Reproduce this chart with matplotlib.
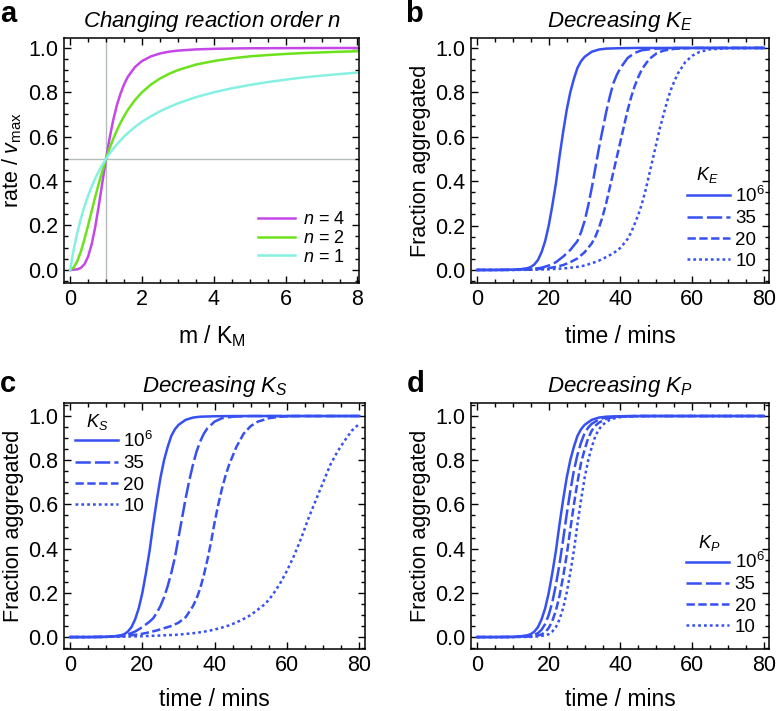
import numpy as np
import matplotlib
matplotlib.use("Agg")
import matplotlib.pyplot as plt
from matplotlib.ticker import MultipleLocator, FormatStrFormatter

plt.rcParams['font.family'] = ['Liberation Sans', 'DejaVu Sans']
plt.rcParams['mathtext.fontset'] = 'custom'
plt.rcParams['mathtext.rm'] = 'Liberation Sans'
plt.rcParams['mathtext.it'] = 'Liberation Sans:italic'
plt.rcParams['mathtext.bf'] = 'Liberation Sans:bold'
plt.rcParams['lines.scale_dashes'] = False

# ---- panel a : rate vs m/KM ----
m_km = [0, 0.1, 0.2, 0.3, 0.4, 0.5, 0.6, 0.7, 0.8, 0.9, 1.0, 1.1, 1.2, 1.3, 1.4,
        1.5, 1.6, 1.8, 2.0, 2.25, 2.5, 2.75, 3.0, 3.5, 4, 4.5, 5, 5.5, 6, 6.5, 7, 7.5, 8]
rate_n1 = [0, .091, .167, .231, .286, .333, .375, .412, .444, .474, .5, .524, .545,
           .565, .583, .6, .615, .643, .667, .692, .714, .733, .75, .778, .8, .818,
           .833, .846, .857, .867, .875, .882, .889]
rate_n2 = [0, .0099, .0385, .0826, .138, .2, .265, .329, .390, .447, .5, .548, .590,
           .628, .662, .692, .719, .764, .8, .835, .862, .883, .9, .925, .941, .953,
           .962, .968, .973, .977, .980, .983, .985]
rate_n4 = [0, .0001, .0016, .0081, .025, .0588, .1147, .1936, .2906, .3962, .5, .594,
           .675, .741, .793, .835, .868, .913, .941, .962, .975, .983, .988, .9934,
           .9961, .9976, .9984, .9989, .9992, .9994, .9996, .9997, .9998]

# ---- shared curve: K = 10^6 ----
t_base = [0, 5, 10, 12, 14, 15, 16, 17, 18, 19, 20, 21, 22, 23, 24, 25, 26, 27, 28,
          29, 30, 32, 34, 36, 40, 45, 50, 60, 70, 80]
f_base = [0, 0, 0.001, 0.003, 0.008, 0.013, 0.025, 0.045, 0.08, 0.13, 0.2, 0.29, 0.39,
          0.51, 0.62, 0.72, 0.80, 0.86, 0.91, 0.94, 0.96, 0.983, 0.993, 0.997, 0.999,
          1, 1, 1, 1, 1]

# ---- panel b : decreasing KE ----
tE_35 = [0, 5, 10, 15, 18, 20, 22, 24, 26, 28, 29, 30, 31, 32, 33, 34, 35, 36, 37, 38,
         39, 40, 42, 44, 46, 50, 55, 60, 70, 80]
fE_35 = [0, 0, 0.001, 0.003, 0.01, 0.02, 0.035, 0.06, 0.09, 0.13, 0.17, 0.22, 0.29,
         0.37, 0.46, 0.55, 0.63, 0.71, 0.78, 0.84, 0.88, 0.91, 0.955, 0.978, 0.99,
         0.997, 1, 1, 1, 1]
tE_20 = [0, 5, 10, 15, 20, 22, 24, 26, 28, 30, 32, 33, 34, 35, 36, 37, 38, 39, 40, 41,
         42, 43, 44, 45, 46, 48, 50, 52, 55, 60, 70, 80]
fE_20 = [0, 0, 0.0005, 0.002, 0.008, 0.014, 0.022, 0.035, 0.052, 0.08, 0.12, 0.15,
         0.19, 0.24, 0.30, 0.37, 0.44, 0.51, 0.58, 0.65, 0.72, 0.78, 0.83, 0.87, 0.905,
         0.95, 0.975, 0.988, 0.996, 1, 1, 1]
tE_10 = [0, 5, 10, 15, 20, 25, 28, 30, 32, 34, 36, 38, 40, 41, 42, 43, 44, 45, 46, 47,
         48, 49, 50, 51, 52, 53, 54, 55, 56, 58, 60, 62, 65, 70, 80]
fE_10 = [0, 0, 0, 0.001, 0.003, 0.008, 0.014, 0.02, 0.03, 0.042, 0.058, 0.075, 0.1,
         0.12, 0.14, 0.17, 0.21, 0.25, 0.30, 0.36, 0.43, 0.50, 0.57, 0.64, 0.70, 0.76,
         0.81, 0.85, 0.885, 0.935, 0.965, 0.982, 0.994, 0.999, 1]

# ---- panel c : decreasing KS ----
tS_35 = [0, 5, 10, 14, 16, 18, 20, 22, 23, 24, 25, 26, 27, 28, 29, 30, 31, 32, 33, 34,
         35, 36, 37, 38, 40, 42, 45, 50, 60, 70, 80]
fS_35 = [0, 0, 0.001, 0.005, 0.012, 0.025, 0.045, 0.07, 0.085, 0.11, 0.14, 0.18, 0.23,
         0.29, 0.36, 0.45, 0.54, 0.63, 0.71, 0.78, 0.84, 0.885, 0.92, 0.945, 0.975,
         0.99, 0.997, 1, 1, 1, 1]
tS_20 = [0, 5, 10, 15, 18, 20, 22, 24, 26, 28, 30, 32, 34, 35, 36, 37, 38, 39, 40, 41,
         42, 43, 44, 45, 46, 48, 50, 52, 55, 58, 62, 70, 80]
fS_20 = [0, 0, 0.001, 0.005, 0.01, 0.015, 0.022, 0.03, 0.04, 0.05, 0.065, 0.09, 0.14,
         0.175, 0.22, 0.28, 0.35, 0.43, 0.52, 0.60, 0.67, 0.73, 0.78, 0.82, 0.86, 0.92,
         0.955, 0.975, 0.99, 0.997, 1, 1, 1]
tS_10 = [0, 5, 10, 15, 20, 25, 30, 35, 38, 40, 42, 44, 46, 48, 50, 52, 54, 56, 58, 60,
         62, 64, 66, 68, 70, 72, 74, 76, 78, 80]
fS_10 = [0, 0, 0.001, 0.002, 0.004, 0.007, 0.011, 0.019, 0.027, 0.034, 0.043, 0.053,
         0.066, 0.082, 0.10, 0.125, 0.15, 0.19, 0.24, 0.30, 0.37, 0.45, 0.54, 0.62,
         0.70, 0.78, 0.84, 0.89, 0.935, 0.965]

# ---- panel d : decreasing KP ----
tP_35 = [0, 5, 10, 14, 15, 16, 17, 18, 19, 20, 21, 22, 23, 24, 25, 26, 27, 28, 29, 30,
         31, 32, 34, 36, 40, 45, 50, 60, 70, 80]
fP_35 = [0, 0, 0.0005, 0.0035, 0.006, 0.01, 0.018, 0.033, 0.059, 0.10, 0.158, 0.236,
         0.33, 0.44, 0.554, 0.66, 0.752, 0.824, 0.88, 0.922, 0.948, 0.965, 0.985,
         0.994, 0.999, 1, 1, 1, 1, 1]
tP_20 = [0, 5, 10, 15, 16, 17, 18, 19, 20, 21, 22, 23, 24, 25, 26, 27, 28, 29, 30, 31,
         32, 33, 34, 36, 38, 40, 45, 50, 60, 70, 80]
fP_20 = [0, 0, 0.0003, 0.0028, 0.005, 0.007, 0.012, 0.022, 0.041, 0.073, 0.12, 0.186,
         0.272, 0.37, 0.486, 0.598, 0.70, 0.788, 0.848, 0.90, 0.934, 0.956, 0.97,
         0.987, 0.995, 0.998, 1, 1, 1, 1, 1]
tP_10 = [0, 5, 10, 15, 17, 19, 20, 21, 22, 23, 24, 25, 26, 27, 28, 29, 30, 31, 32, 33,
         34, 35, 37, 39, 41, 45, 50, 60, 70, 80]
fP_10 = [0, 0, 0, 0.001, 0.003, 0.008, 0.013, 0.025, 0.045, 0.08, 0.13, 0.2, 0.29,
         0.39, 0.51, 0.62, 0.72, 0.80, 0.86, 0.91, 0.94, 0.96, 0.983, 0.993, 0.997,
         0.999, 1, 1, 1, 1]

k_labels = ['10$^6$', '35', '20', '10']

blue = '#3650f2'
c_n4 = '#c548e6'
c_n2 = '#6ce21c'
c_n1 = '#86f0e2'
lw = 1.8
styles = ['-', (0, (11, 3)), (0, (6, 2.5)), (0, (2, 2.2))]

TICK = 15.5
YLAB = 15.5
XLAB = 16.5
TIT = 16
LEG = 13.5

fig = plt.figure(figsize=(7.77, 7.11), dpi=100)
ax_a = fig.add_axes([0.0824, 0.602, 0.380, 0.3446])
ax_b = fig.add_axes([0.6062, 0.602, 0.384, 0.3446])
ax_c = fig.add_axes([0.0824, 0.0872, 0.387, 0.346])
ax_d = fig.add_axes([0.6062, 0.0872, 0.384, 0.346])


def frame(ax, xmaj, xmin):
    ax.xaxis.set_major_locator(MultipleLocator(xmaj))
    ax.xaxis.set_minor_locator(MultipleLocator(xmin))
    ax.yaxis.set_major_locator(MultipleLocator(0.2))
    ax.yaxis.set_minor_locator(MultipleLocator(0.05))
    ax.yaxis.set_major_formatter(FormatStrFormatter('%.1f'))
    ax.tick_params(which='both', direction='in', top=True, right=True,
                   labelsize=TICK, width=1.0, colors='black')
    ax.tick_params(which='major', length=5, pad=4)
    ax.tick_params(which='minor', length=2.8)
    for s in ax.spines.values():
        s.set_linewidth(1.1)


# panel a
ax_a.axvline(1, color='#b4bcbc', lw=1.0, zorder=1)
ax_a.axhline(0.5, color='#b4bcbc', lw=1.0, zorder=1)
ax_a.plot(m_km, rate_n4, color=c_n4, lw=lw, label='$n$ = 4')
ax_a.plot(m_km, rate_n2, color=c_n2, lw=lw, label='$n$ = 2')
ax_a.plot(m_km, rate_n1, color=c_n1, lw=lw, label='$n$ = 1')
ax_a.set_xlim(-0.17, 8.05)
ax_a.set_ylim(-0.06, 1.045)
frame(ax_a, 2, 0.5)
ax_a.xaxis.set_major_formatter(FormatStrFormatter('%d'))
ax_a.set_title('Changing reaction order $n$', fontsize=TIT, style='italic', pad=8)
ax_a.set_xlabel('m / K$_\\mathrm{M}$', fontsize=XLAB, labelpad=10)
ax_a.set_ylabel('rate / $v_\\mathrm{max}$', fontsize=YLAB, labelpad=3)
ax_a.legend(loc='upper left', bbox_to_anchor=(0.603, 0.36), frameon=False,
            fontsize=13, handlelength=2.05, labelspacing=0.1, handletextpad=0.45)

# (axes, title, legend title, curves, legend anchor, legend-title position, xlabel pad)
panels = [
    (ax_b, 'Decreasing $K_E$', '$K_E$',
     [(t_base, f_base), (tE_35, fE_35), (tE_20, fE_20), (tE_10, fE_10)],
     (0.667, 0.465), (0.793, 0.441), 11),
    (ax_c, 'Decreasing $K_S$', '$K_S$',
     [(t_base, f_base), (tS_35, fS_35), (tS_20, fS_20), (tS_10, fS_10)],
     (-0.02, 0.955), (0.11, 0.923), 9),
    (ax_d, 'Decreasing $K_P$', '$K_P$',
     [(t_base, f_base), (tP_35, fP_35), (tP_20, fP_20), (tP_10, fP_10)],
     (0.665, 0.463), (0.798, 0.431), 9),
]

for ax, title, ltitle, curves, anchor, tpos, xpad in panels:
    for (t, f), ls, lab in zip(curves, styles, k_labels):
        ax.plot(t, f, color=blue, lw=lw, linestyle=ls, label=lab)
    ax.set_xlim(-1.66, 81.5)
    frame(ax, 20, 5)
    ax.set_title(title, fontsize=TIT, style='italic', pad=8)
    ax.set_xlabel('time / mins', fontsize=XLAB, labelpad=xpad)
    ax.set_ylabel('Fraction aggregated', fontsize=YLAB, labelpad=3)
    ax.legend(loc='upper left', bbox_to_anchor=anchor, frameon=False,
              fontsize=LEG, handlelength=2.3, labelspacing=0.22,
              handletextpad=0.28)
    ax.text(tpos[0], tpos[1], ltitle, transform=ax.transAxes, fontsize=13,
            ha='center', va='center')

ax_b.set_ylim(-0.0586, 1.045)
ax_c.set_ylim(-0.054, 1.059)
ax_d.set_ylim(-0.054, 1.059)

for x, y, s in [(0.0, 1.0, 'a'), (0.522, 1.0, 'b'), (0.0, 0.479, 'c'), (0.523, 0.479, 'd')]:
    fig.text(x, y, s, fontsize=21, fontweight='bold', va='top', ha='left')

fig.savefig('out.png', dpi=100)
